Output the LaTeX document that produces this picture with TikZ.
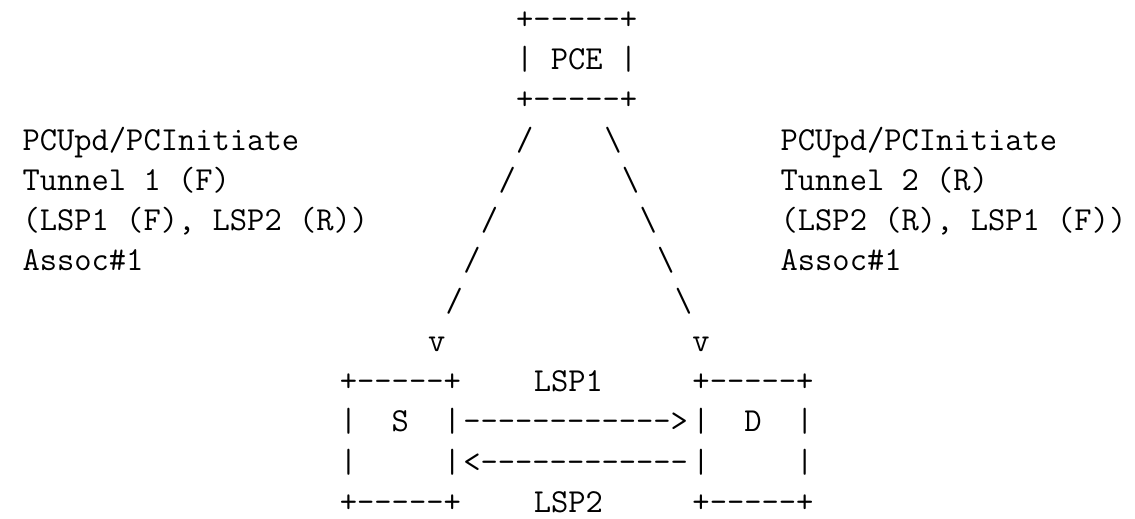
\documentclass[tikz,border=0pt]{standalone}
\usepackage{fontspec}
\newfontfamily\asciifont{Latin Modern Mono}
\usetikzlibrary{positioning}
\tikzset{ascii/.style={font={\asciifont\fontsize{19.1}{23}\selectfont},inner sep=0pt,
            anchor=base west,xshift=-0.1763cm,yshift=-0.2057cm},
            }
\frenchspacing
\begin{document}
\begin{tikzpicture}[x=0.3526cm,y=-0.805cm]
    \useasboundingbox (-1.758,-0.472) rectangle (62.62,12.422);

    \node[ascii] (pcetop) at (28,0) {+-----+};
    \node[ascii] (pce)    at (28,1) {|~PCE~|};
    \node[ascii] (pcebot) at (28,2) {+-----+};

    \foreach \r in {3,...,7} {
        \node[ascii] (l\r) at (31-\r,\r) {/};
        \node[ascii] (r\r) at (30+\r,\r) {\textbackslash};
    }
    \node[ascii] (vs) at (23,8) {v};
    \node[ascii] (vd) at (38,8) {v};

    \node[ascii] (stop) at (18,9)  {+-----+};
    \node[ascii] (s)    at (18,10) {|~~S~~|};
    \node[ascii] (smid) at (18,11) {|~~~~~|};
    \node[ascii] (sbot) at (18,12) {+-----+};

    \node[ascii] (dtop) at (38,9)  {+-----+};
    \node[ascii] (d)    at (38,10) {|~~D~~|};
    \node[ascii] (dmid) at (38,11) {|~~~~~|};
    \node[ascii] (dbot) at (38,12) {+-----+};

    \node[ascii] (lsp1) at (29,9)  {LSP1};
    \node[ascii] (fwd)  at (25,10) {------------>};
    \node[ascii] (rev)  at (25,11) {<------------};
    \node[ascii] (lsp2) at (29,12) {LSP2};

    \node[ascii] (lmsg)  at (0,3) {PCUpd/PCInitiate};
    \node[ascii] (ltun)  at (0,4) {Tunnel 1 (F)};
    \node[ascii] (llsp)  at (0,5) {(LSP1 (F), LSP2 (R))};
    \node[ascii] (lasc)  at (0,6) {Assoc\#1};

    \node[ascii] (rmsg)  at (43,3) {PCUpd/PCInitiate};
    \node[ascii] (rtun)  at (43,4) {Tunnel 2 (R)};
    \node[ascii] (rlsp)  at (43,5) {(LSP2 (R), LSP1 (F))};
    \node[ascii] (rasc)  at (43,6) {Assoc\#1};

\end{tikzpicture}
\end{document}
